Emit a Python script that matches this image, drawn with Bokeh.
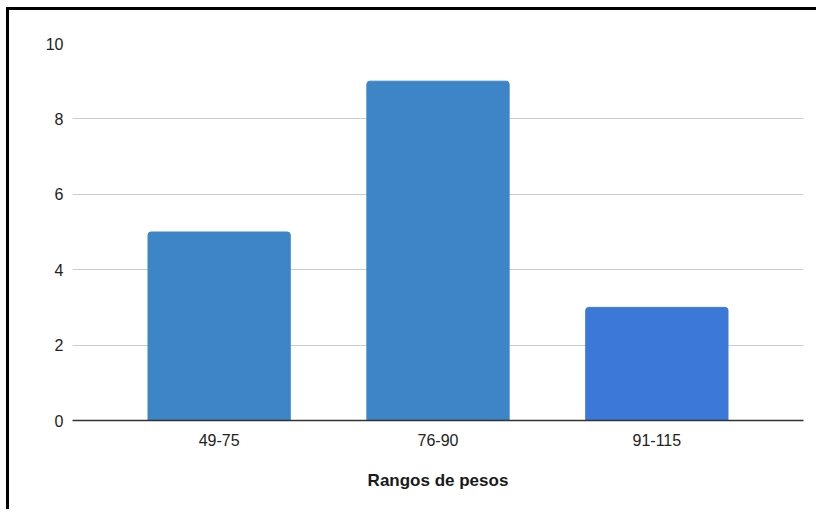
from bokeh.plotting import figure
from bokeh.models import Range1d, FixedTicker, ColumnDataSource
from bokeh.embed import file_html
from bokeh.resources import INLINE

# Frequency of weights per range
categories = ["49-75", "76-90", "91-115"]
counts = [5, 9, 3]
bar_colors = ["#3d85c6", "#3d85c6", "#3c78d8"]
y_ticks = [0, 2, 4, 6, 8, 10]

positions = list(range(len(categories)))
source = ColumnDataSource(dict(x=positions, top=counts, color=bar_colors))

p = figure(
    width=810, height=502,
    x_range=Range1d(-0.67, len(categories) - 1 + 0.67),
    y_range=Range1d(0, 10),
    output_backend="svg", toolbar_location=None,
    min_border_left=63, min_border_right=16,
    min_border_top=33, min_border_bottom=92,
)
# black frame lines on the left and top of the chart box
p.styles = {
    "border-left": "3px solid black",
    "border-top": "3px solid black",
    "margin-left": "6px",
    "margin-top": "7px",
}
p.outline_line_color = None
p.background_fill_color = "white"
p.border_fill_color = "white"

p.vbar(x="x", top="top", width=0.65, color="color", source=source,
       border_radius={"top_left": 3, "top_right": 3})

# x axis: category labels below each bar
p.xaxis.ticker = FixedTicker(ticks=positions)
p.xaxis.major_label_overrides = {i: c for i, c in zip(positions, categories)}
p.xaxis.axis_label = "Rangos de pesos"
p.xaxis.axis_label_text_font = "Liberation Sans"
p.xaxis.axis_label_text_font_style = "bold"
p.xaxis.axis_label_text_font_size = "17px"
p.xaxis.axis_label_text_color = "#1a1a1a"
p.xaxis.axis_label_standoff = 22
p.xaxis.major_label_text_font = "Liberation Sans"
p.xaxis.major_label_text_font_size = "16px"
p.xaxis.major_label_text_color = "#222222"
p.xaxis.major_label_standoff = 7
p.xaxis.axis_line_color = "#333333"
p.xaxis.axis_line_width = 1.3
p.xaxis.major_tick_line_color = None
p.xaxis.minor_tick_line_color = None

# y axis: counts
p.yaxis.ticker = FixedTicker(ticks=y_ticks)
p.yaxis.axis_line_color = None
p.yaxis.major_tick_line_color = None
p.yaxis.minor_tick_line_color = None
p.yaxis.major_tick_out = 0
p.yaxis.major_label_standoff = 9
p.yaxis.major_label_text_font = "Liberation Sans"
p.yaxis.major_label_text_font_size = "16px"
p.yaxis.major_label_text_color = "#222222"

p.xgrid.grid_line_color = None
p.ygrid.grid_line_color = "#cccccc"
p.ygrid.grid_line_width = 1

open("out.html", "w").write(file_html(p, INLINE))
